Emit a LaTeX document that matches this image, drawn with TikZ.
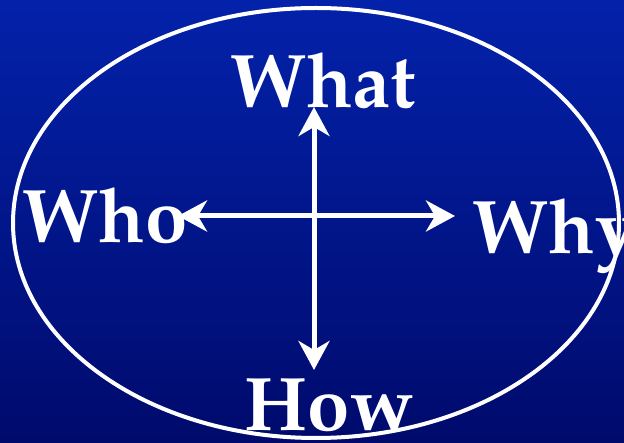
\documentclass[tikz,border=0pt]{standalone}
\usepackage[T1]{fontenc}
\usepackage{mathpazo}
\usetikzlibrary{arrows.meta}
\definecolor{bgtop}{RGB}{3,34,170}
\definecolor{bgbot}{RGB}{0,10,108}
\begin{document}
\begin{tikzpicture}[x=1pt,y=-1pt,
  lbl/.style={text=white,font=\fontsize{76}{76}\selectfont\bfseries,inner sep=0pt,anchor=base},
  axisarrow/.style={white,line width=5pt,{Stealth[length=29pt,width=31pt,inset=9pt]}-{Stealth[length=29pt,width=31pt,inset=9pt]}}]
\shade[top color=bgtop,bottom color=bgbot] (0,0) rectangle (624,443);
\useasboundingbox (0,0) rectangle (624,443);
\draw[white,line width=4pt] (316,223) ellipse [x radius=303,y radius=215];
\node[lbl] (what) at (323,108) {What};
\node[lbl] (who) at (105,243) {Who};
\node[lbl] (why) at (555,254) {Why};
\node[lbl] (how) at (329,431) {How};
\coordinate (vtop) at (314,107);
\coordinate (vbot) at (314,370);
\coordinate (hleft) at (178,216);
\coordinate (hright) at (455,216);
\draw[axisarrow] (vbot) -- (vtop);
\draw[axisarrow] (hleft) -- (hright);
\end{tikzpicture}
\end{document}
